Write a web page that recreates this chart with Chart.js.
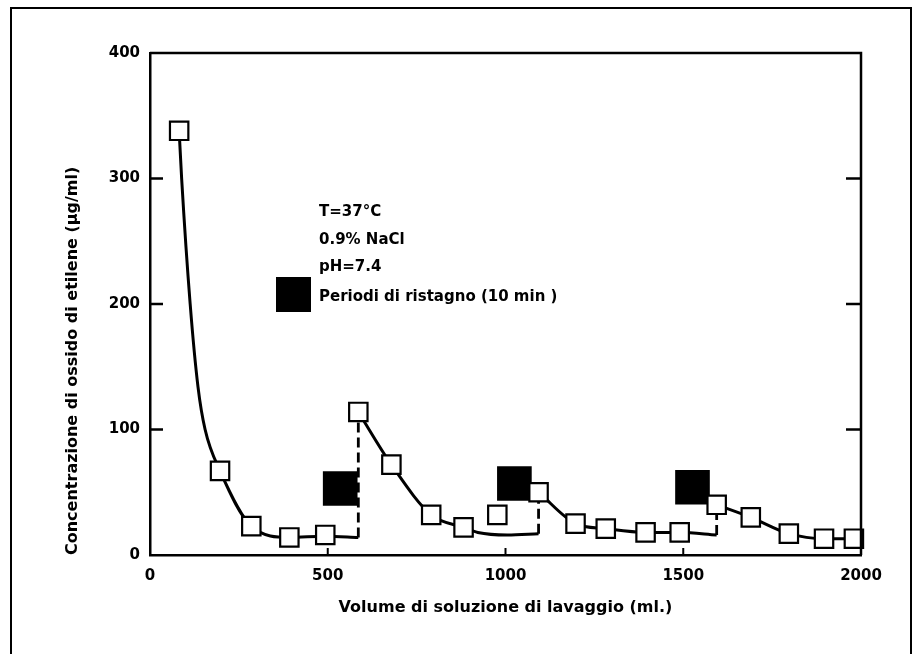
<!DOCTYPE html>
<html>
<head>
<meta charset="utf-8">
<script src="https://cdn.jsdelivr.net/npm/chart.js@4.4.0/dist/chart.umd.min.js"></script>
<style>
  html, body { margin: 0; padding: 0; background: #ffffff; }
  canvas { display: block; }
</style>
</head>
<body>
<canvas id="chart" width="915" height="654"></canvas>
<script>
// ---------- DATA ----------
const xTickLabels = [0, 500, 1000, 1500, 2000];
const yTickLabels = [0, 100, 200, 300, 400];

// measured samples (hollow squares)
const sampleVolume = [82, 197, 285, 392, 493, 586, 679, 791, 882, 977, 1093, 1197, 1282, 1394, 1490, 1594, 1690, 1797, 1896, 1980];
const sampleConc   = [338, 67, 23, 14, 16, 114, 72, 32, 22, 32, 50, 25, 21, 18, 18, 40, 30, 17, 13, 13];

// stagnation periods (filled squares)
const stagnationVolume = [535, 1025, 1526];
const stagnationConc   = [53, 57, 54];

// fitted curves (solid)
const curve1Volume = [82, 89, 113, 135, 155, 197, 285, 392, 493, 586];
const curve1Conc   = [338, 300, 200, 134, 100, 67, 23, 14, 15, 14];
const curve2Volume = [586, 679, 791, 882, 922, 1005, 1093];
const curve2Conc   = [114, 72, 32, 22, 18, 16, 17];
const curve3Volume = [1093, 1197, 1282, 1394, 1490, 1594];
const curve3Conc   = [50, 25, 21, 18, 18, 16];
const curve4Volume = [1594, 1690, 1797, 1896, 1980];
const curve4Conc   = [40, 30, 17, 13, 13];

// dashed jumps after each stagnation period
const jump1Volume = [586, 586];   const jump1Conc = [14, 114];
const jump2Volume = [1093, 1093]; const jump2Conc = [17, 50];
const jump3Volume = [1594, 1594]; const jump3Conc = [16, 40];

const annotationLines = ['T=37°C', '0.9% NaCl', 'pH=7.4'];
const legendLabel = 'Periodi di ristagno (10 min )';
const xTitle = 'Volume di soluzione di lavaggio (ml.)';
const yTitle = 'Concentrazione di ossido di etilene (µg/ml)';

// ---------- helpers ----------
const pts = (xs, ys) => xs.map((x, i) => ({ x: x, y: ys[i] }));
const FONT = '"DejaVu Sans", "Liberation Sans", sans-serif';
const INK = '#000000';

function curveDataset(xs, ys) {
  return {
    data: pts(xs, ys), showLine: true, pointRadius: 0, borderColor: INK,
    borderWidth: 3, cubicInterpolationMode: 'monotone', order: 3, clip: false
  };
}
function jumpDataset(xs, ys) {
  return {
    data: pts(xs, ys), showLine: true, pointRadius: 0, borderColor: INK,
    borderWidth: 2.8, borderDash: [10, 5], order: 3, clip: false
  };
}

const framePlugin = {
  id: 'framePlugin',
  beforeDraw(chart) {
    const ctx = chart.ctx;
    ctx.save();
    ctx.fillStyle = '#ffffff';
    ctx.fillRect(0, 0, chart.width, chart.height);
    // outer page frame
    ctx.strokeStyle = INK;
    ctx.lineWidth = 2;
    ctx.beginPath();
    ctx.moveTo(11, chart.height);
    ctx.lineTo(11, 8);
    ctx.lineTo(911, 8);
    ctx.lineTo(911, chart.height);
    ctx.stroke();
    ctx.restore();
  },
  afterDraw(chart) {
    const ctx = chart.ctx;
    const ca = chart.chartArea;
    const xs = chart.scales.x, ys = chart.scales.y;
    ctx.save();
    ctx.strokeStyle = INK;
    ctx.lineWidth = 2.5;
    // top and right edges of the plot box
    ctx.beginPath();
    ctx.moveTo(ca.left, ca.top);
    ctx.lineTo(ca.right, ca.top);
    ctx.lineTo(ca.right, ca.bottom);
    ctx.stroke();
    // inward tick marks
    ctx.lineWidth = 2.5;
    ys.ticks.forEach(t => {
      if (t.value <= ys.min || t.value >= ys.max) return;
      const py = ys.getPixelForValue(t.value);
      ctx.beginPath();
      ctx.moveTo(ca.left, py); ctx.lineTo(ca.left + 13, py);
      ctx.moveTo(ca.right, py); ctx.lineTo(ca.right - 15, py);
      ctx.stroke();
    });
    ctx.lineWidth = 2;
    xs.ticks.forEach(t => {
      if (t.value <= xs.min || t.value >= xs.max) return;
      const px = xs.getPixelForValue(t.value);
      ctx.beginPath();
      ctx.moveTo(px, ca.bottom); ctx.lineTo(px, ca.bottom - 7);
      ctx.stroke();
    });
    // annotation block
    ctx.fillStyle = INK;
    ctx.font = 'bold 15px ' + FONT;
    ctx.textBaseline = 'middle';
    ctx.textAlign = 'left';
    const tx = ca.left + 169;
    const lineYs = [159, 187, 214];
    annotationLines.forEach((s, i) => ctx.fillText(s, tx, ca.top + lineYs[i]));
    // legend for stagnation periods
    ctx.fillRect(ca.left + 126, ca.top + 224, 35, 35);
    ctx.fillText(legendLabel, tx, ca.top + 244);
    ctx.restore();
  }
};

new Chart(document.getElementById('chart'), {
  type: 'scatter',
  data: {
    datasets: [
      {
        label: 'campioni',
        data: pts(sampleVolume, sampleConc),
        pointStyle: 'rect', pointRadius: 13, pointHoverRadius: 13,
        pointBorderWidth: 2.2, pointBorderColor: INK, pointBackgroundColor: '#ffffff',
        showLine: false, order: 0, clip: false
      },
      {
        label: 'ristagno',
        data: pts(stagnationVolume, stagnationConc),
        pointStyle: 'rect', pointRadius: 24.5, pointHoverRadius: 24.5,
        pointBorderWidth: 0, pointBackgroundColor: INK, pointBorderColor: INK,
        showLine: false, order: 1, clip: false
      },
      curveDataset(curve1Volume, curve1Conc),
      curveDataset(curve2Volume, curve2Conc),
      curveDataset(curve3Volume, curve3Conc),
      curveDataset(curve4Volume, curve4Conc),
      jumpDataset(jump1Volume, jump1Conc),
      jumpDataset(jump2Volume, jump2Conc),
      jumpDataset(jump3Volume, jump3Conc)
    ]
  },
  options: {
    responsive: false,
    animation: false,
    devicePixelRatio: 1,
    layout: { padding: { top: 53, right: 54, bottom: 0, left: 50 } },
    plugins: { legend: { display: false }, tooltip: { enabled: false } },
    scales: {
      x: {
        type: 'linear', min: 0, max: 2000,
        afterBuildTicks: (s) => { s.ticks = xTickLabels.map(v => ({ value: v })); },
        afterFit: (s) => { s.height = 99; },
        grid: { display: false, drawTicks: false },
        border: { display: true, color: INK, width: 2.5 },
        ticks: { color: INK, padding: 12, font: { family: FONT, size: 15, weight: 'bold' }, maxRotation: 0, autoSkip: false, callback: (v) => String(v) },
        title: { display: true, text: xTitle, color: INK, font: { family: FONT, size: 16, weight: 'bold' }, padding: { top: 0, bottom: 37 } }
      },
      y: {
        type: 'linear', min: 0, max: 400,
        afterBuildTicks: (s) => { s.ticks = yTickLabels.map(v => ({ value: v })); },
        afterFit: (s) => { s.width = 100; },
        grid: { display: false, drawTicks: false },
        border: { display: true, color: INK, width: 2.5 },
        ticks: { color: INK, padding: 10, font: { family: FONT, size: 15, weight: 'bold' }, autoSkip: false, callback: (v) => String(v) },
        title: { display: true, text: yTitle, align: 'start', color: INK, font: { family: FONT, size: 16, weight: 'bold' }, padding: { top: 13, bottom: 0 } }
      }
    }
  },
  plugins: [framePlugin]
});
</script>
</body>
</html>
